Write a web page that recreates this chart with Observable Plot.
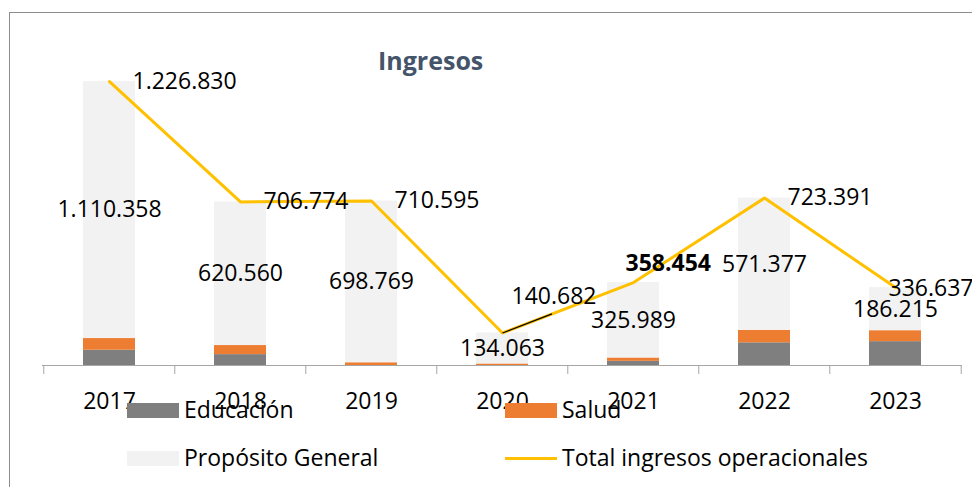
<!DOCTYPE html>
<html><head><meta charset="utf-8">
<script src="https://cdn.jsdelivr.net/npm/d3@7"></script>
<script src="https://cdn.jsdelivr.net/npm/@observablehq/plot@0.6"></script>
<style>
html,body{margin:0;padding:0;background:#fff;}
#wrap{position:relative;width:972px;height:487px;overflow:hidden;font-family:'Open Sans',sans-serif;background:#fff;}
#frame{position:absolute;left:9px;top:12px;width:990px;height:500px;border-left:1px solid #8c8c8c;border-top:1px solid #8c8c8c;}
#chart{position:absolute;left:0;top:0;}
.title{position:absolute;left:378px;top:48px;font-weight:700;font-size:25px;line-height:25px;color:#44546A;white-space:nowrap;}
.lg{position:absolute;font-size:23px;line-height:23px;color:#000;white-space:nowrap;}
.sw{position:absolute;}
</style></head><body>
<div id="wrap">
  <div id="frame"></div>
  <div id="chart"></div>
  <div class="title">Ingresos</div>
  <div id="legend"></div>
</div>
<script>
// ---- data (miles de pesos) ----
const years = ["2017", "2018", "2019", "2020", "2021", "2022", "2023"];
const educacion = [66000, 47000, 0, 0, 18000, 98000, 103000];
const salud = [50472, 39214, 11826, 6619, 14465, 54014, 47422];
const propositoGeneral = [1110358, 620560, 698769, 134063, 325989, 571377, 186215];
const totalIngresos = [1226830, 706774, 710595, 140682, 358454, 723391, 336637];
const seriesNames = ["Educación", "Salud", "Propósito General"];
const lineName = "Total ingresos operacionales";

// ---- styling ----
const colors = ["#7F7F7F", "#ED7D31", "#F2F2F2"];
const lineColor = "#FFC000";
const W = 972, H = 487;
const mL = 42, mR = 10, mT = 41, mB = 122;
const step = (W - mL - mR) / years.length;
const fmt = v => d3.format(",")(v).replace(/,/g, ".");
// label shifts for the total labels (px), default is to the right of the point
const defaultShift = [23, 0];
const totalShift = {"2020": [9, -36], "2021": [-8, -19], "2023": [-7, 1]};
const boldTotals = ["2021"];

// ---- derived tables ----
const seriesValues = [educacion, salud, propositoGeneral];
const stacked = [];
seriesNames.forEach((s, k) => years.forEach((y, i) => stacked.push({year: y, series: s, value: seriesValues[k][i]})));
const pgLabels = years.map((y, i) => ({year: y, mid: educacion[i] + salud[i] + propositoGeneral[i] / 2, text: fmt(propositoGeneral[i])}));
const totals = years.map((y, i) => ({year: y, total: totalIngresos[i], text: fmt(totalIngresos[i])}));

const totalLabelMarks = totals.map(d => {
  const [dx, dy] = totalShift[d.year] || defaultShift;
  return Plot.text([d], {x: "year", y: "total", text: "text", textAnchor: "start", dx, dy,
    fontSize: 23, fill: "#000", fontWeight: boldTotals.includes(d.year) ? "bold" : "normal"});
});

const chart = Plot.plot({
  width: W, height: H,
  marginLeft: mL, marginRight: mR, marginTop: mT, marginBottom: mB,
  x: {type: "band", domain: years, paddingInner: 0.6, paddingOuter: 0.3, axis: null},
  y: {domain: [0, 1400000], axis: null},
  color: {domain: seriesNames, range: colors},
  style: {fontFamily: "'Open Sans', sans-serif", fontSize: "23px", background: "transparent", color: "#000"},
  marks: [
    Plot.barY(stacked, {x: "year", y: "value", fill: "series", order: seriesNames}),
    Plot.ruleY([0], {stroke: "#A6A6A6", strokeWidth: 1.2}),
    Plot.axisX({tickSize: 9, tickFormat: () => "", stroke: "#A6A6A6", dx: -step / 2, label: null}),
    Plot.axisX([years[years.length - 1]], {tickSize: 9, tickFormat: () => "", stroke: "#A6A6A6", dx: step / 2, label: null}),
    Plot.axisX({tickSize: 0, tickPadding: 27, fontSize: 23, fill: "#000", label: null}),
    Plot.line(totals, {x: "year", y: "total", stroke: lineColor, strokeWidth: 3}),
    // leader line for the moved 2020 label
    Plot.link([{x1: years[3], y1: totalIngresos[3], x2: years[4], y2: totalIngresos[4]}],
      {x1: "x1", y1: "y1", x2: "x2", y2: "y2", stroke: "#000", strokeWidth: 1.2, strokeDasharray: "53 1000"}),
    Plot.text(pgLabels, {x: "year", y: "mid", text: "text", fontSize: 23, fill: "#000"}),
    ...totalLabelMarks
  ]
});
document.getElementById("chart").appendChild(chart);

// ---- legend (overlaid, like the original) ----
const legend = document.getElementById("legend");
const legendItems = [
  {name: seriesNames[0], kind: "box", color: colors[0], x: 127, y: 403},
  {name: seriesNames[1], kind: "box", color: colors[1], x: 505, y: 403},
  {name: seriesNames[2], kind: "box", color: colors[2], x: 127, y: 451},
  {name: lineName, kind: "line", color: lineColor, x: 505, y: 451}
];
legendItems.forEach(it => {
  const sw = document.createElement("div");
  sw.className = "sw";
  sw.style.left = it.x + "px";
  sw.style.width = "52px";
  sw.style.background = it.color;
  if (it.kind === "box") { sw.style.top = it.y + "px"; sw.style.height = "15px"; }
  else { sw.style.top = (it.y + 6) + "px"; sw.style.height = "3px"; }
  legend.appendChild(sw);
  const t = document.createElement("div");
  t.className = "lg";
  t.style.left = (it.x + 57) + "px";
  t.style.top = (it.y - 5) + "px";
  t.textContent = it.name;
  legend.appendChild(t);
});
</script>
</body></html>
